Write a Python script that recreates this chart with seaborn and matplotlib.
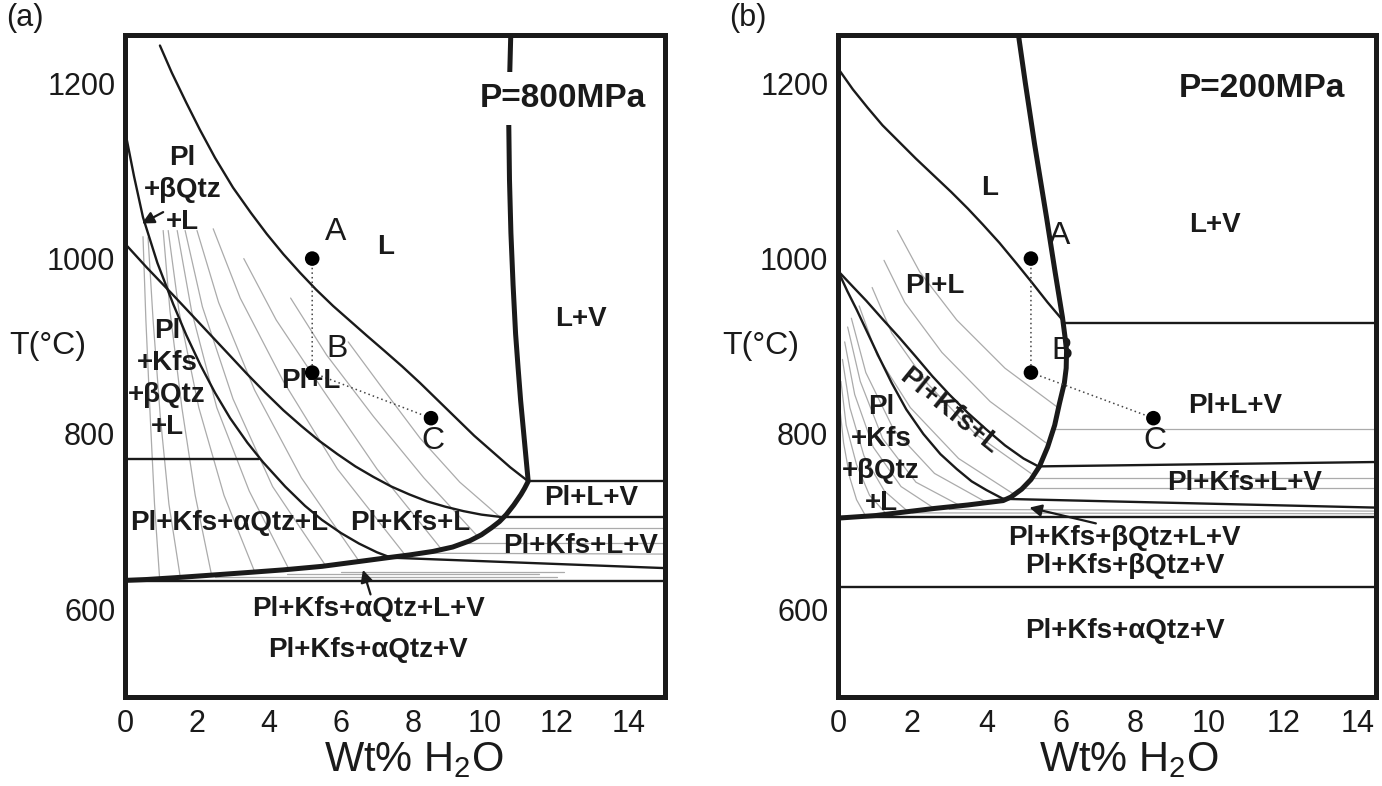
import matplotlib
matplotlib.use("Agg")
import matplotlib.pyplot as plt
import seaborn as sns

sns.set_theme(style="white")
plt.rcParams['font.family'] = ['Liberation Sans', 'DejaVu Sans']
plt.rcParams['mathtext.fontset'] = 'custom'
plt.rcParams['mathtext.rm'] = 'Liberation Sans'

# ---------------- panel (a): P = 800 MPa ----------------
liq_a_x = [0.97, 1.3, 1.7, 2.08, 2.5, 3.0, 3.5, 3.94, 4.4, 4.86, 5.3, 5.78, 6.25, 6.72,
           7.2, 7.7, 8.2, 8.7, 9.2, 9.7, 10.2, 10.7, 11.2]
liq_a_t = [1243, 1212, 1178, 1147, 1115, 1081, 1052, 1028, 1005, 984, 965, 946, 929, 912,
           895, 877, 858, 838, 818, 798, 780, 762, 746]

# water-saturation curve + vapour-saturated solidus (thick)
sat_a_x = [10.72, 10.68, 10.66, 10.68, 10.72, 10.78, 10.85, 10.92, 10.99, 11.1, 11.2,
           11.1, 11.0, 10.8, 10.59, 10.4, 10.18, 9.9, 9.57, 9.1, 8.55, 7.9, 7.32, 6.4,
           5.47, 4.4, 3.42, 2.4, 1.37, 0.6, 0.0]
sat_a_t = [1262, 1200, 1154, 1090, 1029, 970, 914, 875, 838, 790, 746,
           738, 731, 719, 708, 700, 693, 685, 678, 671, 666, 662, 659, 654,
           649, 645, 642, 639, 636, 634, 633]

kfs_a_x = [0.0, 0.25, 0.5, 0.9, 1.34, 1.7, 2.09, 2.5, 2.92, 3.4, 3.83, 4.45, 5.0, 5.47,
           6.0, 6.5, 7.0, 7.32]
kfs_a_t = [1146, 1094, 1047, 995, 948, 913, 879, 847, 818, 790, 768, 740, 718, 702,
           687, 675, 665, 660]

pll_a_x = [0.0, 0.6, 1.3, 2.1, 2.9, 3.4, 3.9, 4.4, 4.9, 5.4, 5.9, 6.4, 6.9, 7.4, 7.9,
           8.4, 8.9, 9.4, 9.9, 10.5]
pll_a_t = [1017, 990, 960, 925, 890, 868, 847, 827, 809, 792, 777, 763, 751, 740, 731,
           723, 717, 712, 708, 705]

# straight boundaries: x0, x1, T0, T1
seg_a = [(0.0, 3.72, 772, 772), (11.2, 15.0, 746, 746), (10.5, 15.0, 705, 705),
         (7.32, 15.0, 659, 647), (0.0, 15.0, 632, 632)]
gseg_a = [(10.2, 15.0, 693, 693), (9.5, 15.0, 676, 676), (8.0, 15.0, 664, 663),
          (2.5, 12.0, 637, 637), (4.5, 11.5, 640, 640), (6.0, 12.2, 643, 643)]

iso_a = [
    ([0.50, 0.58, 0.70, 0.82, 0.96], [1025, 930, 820, 720, 636]),
    ([0.64, 0.78, 0.98, 1.22, 1.53], [1024, 930, 820, 720, 638]),
    ([1.06, 1.25, 1.58, 1.95, 2.40], [1032, 940, 830, 730, 640]),
    ([1.20, 1.50, 2.05, 2.75, 3.60], [1032, 940, 830, 730, 643]),
    ([1.45, 1.85, 2.55, 3.45, 4.55], [1032, 940, 830, 735, 646]),
    ([1.67, 2.15, 3.00, 4.10, 5.57], [1032, 945, 840, 740, 650]),
    ([2.00, 2.60, 3.60, 4.90, 6.50], [1032, 950, 850, 750, 655]),
    ([2.45, 3.20, 4.40, 5.90, 7.80], [1034, 955, 860, 760, 661]),
    ([3.30, 4.20, 5.50, 7.00, 8.80], [1000, 930, 850, 760, 668]),
    ([4.60, 5.60, 6.90, 8.30, 9.80], [955, 890, 820, 750, 683]),
    ([6.20, 7.10, 8.20, 9.30, 10.45], [905, 855, 795, 745, 704]),
]

labels_a = [
    ("Pl\n+βQtz\n+L", 1.6, 1078, 0), ("L", 7.24, 1013, 0), ("L+V", 12.66, 931, 0),
    ("Pl\n+Kfs\n+βQtz\n+L", 1.17, 863, 0), ("Pl+L", 5.15, 860, 0),
    ("Pl+Kfs+αQtz+L", 2.9, 699, 0), ("Pl+Kfs+L", 7.93, 699, 0),
    ("Pl+L+V", 12.94, 727, 0), ("Pl+Kfs+L+V", 12.66, 672, 0),
    ("Pl+Kfs+αQtz+L+V", 6.76, 600, 0), ("Pl+Kfs+αQtz+V", 6.76, 554, 0),
]
arrows_a = [((1.06, 1053), (0.47, 1040)), ((6.82, 617), (6.61, 645))]

# ---------------- panel (b): P = 200 MPa ----------------
liq_b_x = [0.0, 0.4, 0.8, 1.2, 1.65, 2.1, 2.6, 3.05, 3.5, 3.9, 4.35, 4.8, 5.24, 5.65, 6.05]
liq_b_t = [1217, 1193, 1172, 1152, 1133, 1114, 1094, 1076, 1057, 1039, 1018, 995, 972, 950, 930]

sat_b_x = [4.84, 5.05, 5.3, 5.62, 5.85, 6.05, 6.12, 6.16, 6.15, 6.1, 5.97, 5.84, 5.65,
           5.43, 5.2, 4.95, 4.66, 4.45, 3.5, 2.59, 1.8, 1.03, 0.0]
sat_b_t = [1262, 1200, 1130, 1047, 985, 933, 910, 895, 875, 858, 835, 810, 785,
           763, 748, 737, 728, 724, 719, 715, 711, 707, 704]

kfs_b_x = [0.0, 0.4, 0.76, 1.2, 1.65, 2.1, 2.54, 3.0, 3.5, 4.0, 4.5, 5.0, 5.4]
kfs_b_t = [986, 968, 952, 931, 910, 888, 866, 845, 824, 805, 787, 772, 763]

qtz_b_x = [0.0, 0.25, 0.5, 0.8, 1.1, 1.45, 1.84, 2.3, 2.76, 3.2, 3.6, 4.0, 4.45]
qtz_b_t = [986, 963, 942, 915, 888, 858, 828, 800, 777, 760, 746, 736, 726]

seg_b = [(6.1, 14.5, 927, 927), (5.4, 14.5, 763, 768), (4.45, 14.5, 726, 716),
         (0.0, 14.5, 705, 705), (0.0, 14.5, 626, 626)]
gseg_b = [(5.85, 14.5, 806, 806), (5.25, 14.5, 750, 750), (5.0, 14.5, 738, 738),
          (3.0, 14.5, 714, 712), (2.0, 14.5, 710, 709)]

iso_b = [
    ([1.60, 2.20, 3.20, 4.50, 5.93], [1032, 985, 930, 875, 830]),
    ([1.24, 1.80, 2.80, 4.10, 5.60], [998, 950, 893, 837, 790]),
    ([0.92, 1.45, 2.40, 3.70, 5.20], [967, 915, 858, 800, 755]),
    ([0.57, 1.05, 1.95, 3.25, 4.75], [946, 890, 830, 772, 731]),
    ([0.36, 0.75, 1.50, 2.60, 4.00], [932, 870, 805, 755, 722]),
    ([0.26, 0.60, 1.20, 2.10, 3.30], [922, 860, 795, 745, 718]),
    ([0.18, 0.45, 0.95, 1.70, 2.60], [905, 845, 785, 740, 715]),
    ([0.12, 0.32, 0.70, 1.25, 1.90], [885, 830, 775, 735, 711]),
    ([0.08, 0.22, 0.50, 0.85, 1.30], [860, 810, 765, 730, 709]),
    ([0.05, 0.15, 0.32, 0.50, 0.75], [830, 790, 750, 725, 706]),
]

labels_b = [
    ("L", 4.08, 1080, 0), ("L+V", 10.16, 1038, 0), ("Pl+L", 2.6, 969, 0),
    ("Pl+Kfs+L", 3.0, 826, -39), ("Pl\n+Kfs\n+βQtz\n+L", 1.16, 776, 0),
    ("Pl+L+V", 10.7, 832, 0), ("Pl+Kfs+L+V", 10.97, 744, 0),
    ("Pl+Kfs+βQtz+L+V", 7.73, 681, 0), ("Pl+Kfs+βQtz+V", 7.73, 649, 0),
    ("Pl+Kfs+αQtz+V", 7.73, 575, 0),
]
arrows_b = [((6.95, 698), (5.16, 716))]

# sample path A -> B -> C (shared by both panels)
path_x = [5.2, 5.2, 8.5]
path_t = [1000, 870, 818]
path_names = ["A", "B", "C"]
name_pos_a = [(5.85, 1030), (5.9, 897), (8.55, 792)]
name_pos_b = [(5.97, 1026), (6.03, 895), (8.54, 792)]

x_ticks = list(range(0, 15))
x_ticklabels = [str(v) if v % 2 == 0 else "" for v in x_ticks]
y_ticks = list(range(600, 1300, 100))
y_ticklabels = [str(v) if v % 200 == 0 else "" for v in y_ticks]

INK = "#1a1a1a"
GREY = "#ababab"


def line(ax, xs, ts, lw, color, ls="-", z=3):
    sns.lineplot(x=xs, y=ts, sort=False, estimator=None, color=color, lw=lw,
                 linestyle=ls, ax=ax, zorder=z, legend=False)


def panel(ax, xmax, liq, sat, curves, segs, gsegs, isos, labels, arrows,
          name_pos, ptitle, tag, tag_x, xlab_pos):
    for xs, ts in isos:
        line(ax, xs, ts, 0.9, GREY, z=2)
    for x0, x1, t0, t1 in gsegs:
        line(ax, [x0, x1], [t0, t1], 0.9, GREY, z=2)
    for x0, x1, t0, t1 in segs:
        line(ax, [x0, x1], [t0, t1], 1.7, INK)
    line(ax, liq[0], liq[1], 1.7, INK)
    for xs, ts in curves:
        line(ax, xs, ts, 1.7, INK)
    line(ax, sat[0], sat[1], 3.6, INK, z=4)

    # dotted path
    line(ax, path_x, path_t, 1.1, "#444444", ls=(0, (1, 2)), z=5)
    sns.scatterplot(x=path_x, y=path_t, s=110, color="black", edgecolor="none",
                    ax=ax, zorder=7, legend=False)
    for name, (tx, tt) in zip(path_names, name_pos):
        ax.text(tx, tt, name, fontsize=23, ha="center", va="center", color=INK, zorder=6)

    for txt, tx, tt, rot in labels:
        ax.text(tx, tt, txt, fontsize=20, fontweight="bold", ha="center", va="center",
                rotation=rot, rotation_mode="anchor", linespacing=1.3,
                multialignment="center", color=INK, zorder=6)
    for (sx, st), (ex, et) in arrows:
        ax.annotate("", xy=(ex, et), xytext=(sx, st),
                    arrowprops=dict(arrowstyle="-|>", color=INK, lw=1.6,
                                    mutation_scale=18, shrinkA=0, shrinkB=0), zorder=6)

    ax.text(ptitle[1], ptitle[2], ptitle[0], fontsize=24, fontweight="bold",
            ha="center", va="center", color=INK, zorder=8,
            bbox=dict(facecolor="white", edgecolor="none", pad=8))

    ax.set_xlim(0, xmax)
    ax.set_ylim(500, 1255)
    ax.set_xticks(x_ticks)
    ax.set_xticklabels(x_ticklabels)
    ax.set_yticks(y_ticks)
    ax.set_yticklabels(y_ticklabels)
    ax.tick_params(direction="in", length=9, width=1.6, labelsize=22, color=INK,
                   labelcolor=INK)
    ax.tick_params(axis="x", pad=9)
    ax.tick_params(axis="y", pad=7)
    for sp in ax.spines.values():
        sp.set_linewidth(3.6)
        sp.set_color(INK)
        sp.set_visible(True)
    ax.set_xlabel("Wt% H$_\\mathregular{2}$O", fontsize=30, color=INK)
    ax.xaxis.set_label_coords(xlab_pos, -0.065)
    ax.set_ylabel("T(°C)", fontsize=23, rotation=0, color=INK, va="center", ha="center")
    ax.yaxis.set_label_coords(-0.143, 0.53)
    ax.text(tag_x, 1.026, tag, transform=ax.transAxes, fontsize=22, ha="center",
            va="center", color=INK)
    ax.grid(False)


fig = plt.figure(figsize=(13.82, 7.86), dpi=100)
ax_a = fig.add_axes([125 / 1382, 89 / 786, 540 / 1382, 662 / 786])
ax_b = fig.add_axes([838 / 1382, 89 / 786, 538 / 1382, 662 / 786])

panel(ax_a, 15.0, (liq_a_x, liq_a_t), (sat_a_x, sat_a_t),
      [(kfs_a_x, kfs_a_t), (pll_a_x, pll_a_t)], seg_a, gseg_a, iso_a, labels_a,
      arrows_a, name_pos_a, ("P=800MPa", 12.15, 1183), "(a)", -0.185, 0.535)
panel(ax_b, 14.5, (liq_b_x, liq_b_t), (sat_b_x, sat_b_t),
      [(kfs_b_x, kfs_b_t), (qtz_b_x, qtz_b_t)], seg_b, gseg_b, iso_b, labels_b,
      arrows_b, name_pos_b, ("P=200MPa", 11.43, 1194), "(b)", -0.167, 0.54)

fig.savefig("out.png", dpi=100)
